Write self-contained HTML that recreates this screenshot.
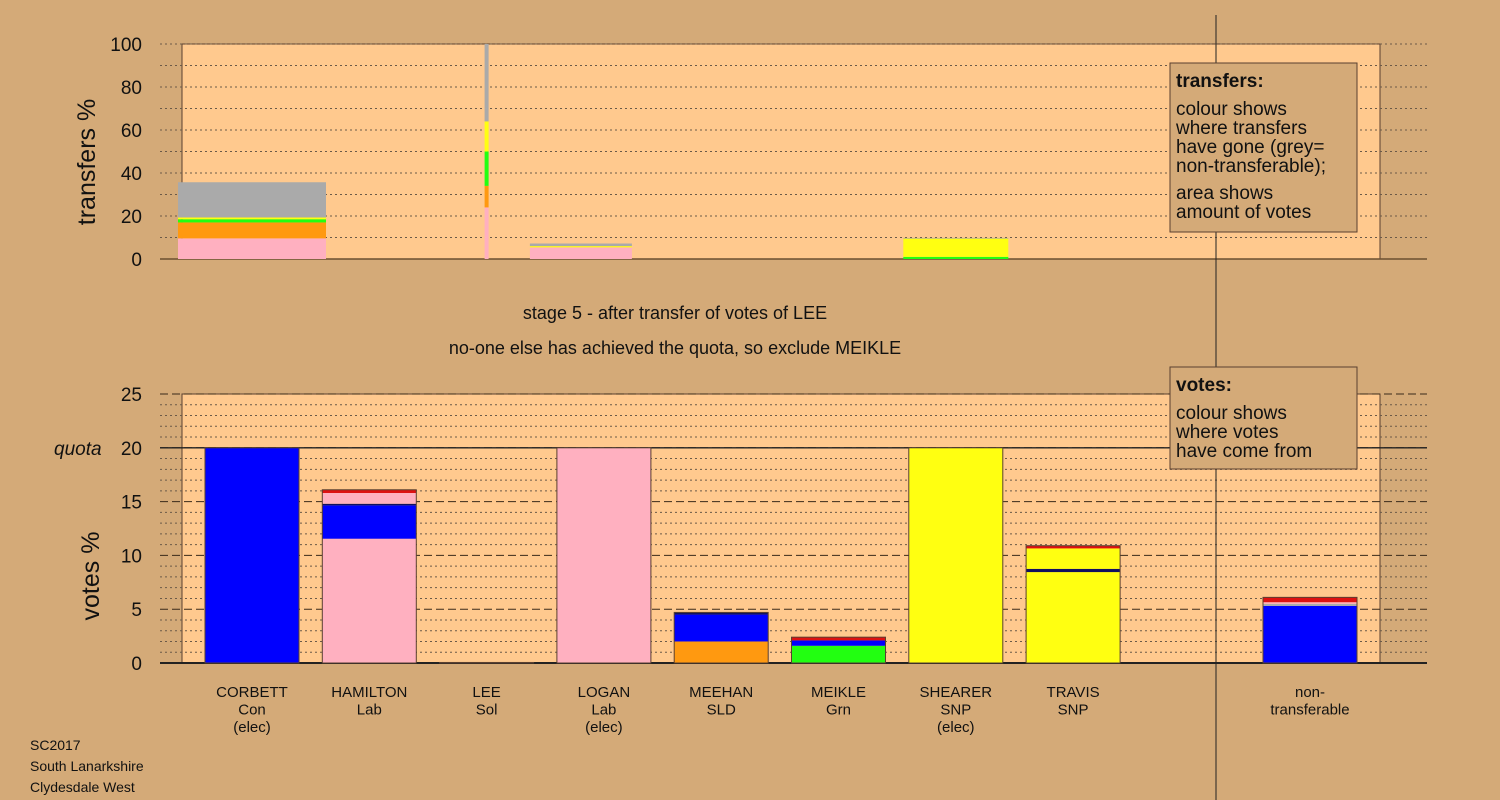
<!DOCTYPE html>
<html><head><meta charset="utf-8"><style>
body{margin:0;background:#d4aa78;}
svg{display:block;font-family:"Liberation Sans",sans-serif;}
</style></head><body>
<svg id="c" width="1500" height="800" xmlns="http://www.w3.org/2000/svg"></svg>
<script>
const candidates=["CORBETT","HAMILTON","LEE","LOGAN","MEEHAN","MEIKLE","SHEARER","TRAVIS"];
const parties=["Con","Lab","Sol","Lab","SLD","Grn","SNP","SNP"];
const elected=[true,false,false,true,false,false,true,false];
const colors={pink:"#ffb0c0",blue:"#0000ff",yellow:"#ffff11",orange:"#ff9910",green:"#22ff11",gray:"#aaaaaa",red:"#dd1111",navy:"#101060"};
// bottom: stacked votes % segments [colour, value]
const voteSegs=[
 [["blue",20]],
 [["pink",11.55],["blue",3.1],["navy",0.15],["pink",1.0],["red",0.3]],
 [["gray",0.05]],
 [["pink",20]],
 [["orange",2.0],["blue",2.5],["navy",0.2]],
 [["green",1.6],["blue",0.5],["red",0.3]],
 [["yellow",20]],
 [["yellow",8.45],["navy",0.3],["yellow",1.9],["red",0.25]],
];
const nonTransSegs=[["blue",5.3],["gray",0.2],["pink",0.15],["red",0.45]];
// top: transfers % segments and relative widths (amount of votes)
const transSegs=[
 [["pink",9.6],["orange",7.4],["green",1.5],["yellow",0.8],["gray",16.4]],
 [],
 [["pink",24],["orange",10],["green",16],["yellow",14],["gray",36]],
 [["pink",5.4],["yellow",0.6],["gray",1.2]],
 [],[],
 [["green",1],["yellow",8.5],["gray",0.3]],
 []
];
const transWidths=[148,0,4,102,0,0,105,0];
const votesTicks=[0,5,10,15,20,25];
const transTicks=[0,20,40,60,80,100];
const quota=20;

const svg=document.getElementById('c');
const NS="http://www.w3.org/2000/svg";
function el(t,a,p){const e=document.createElementNS(NS,t);for(const k in a)e.setAttribute(k,a[k]);(p||svg).appendChild(e);return e;}
function txt(s,a){const e=el('text',a);e.textContent=s;return e;}
const xC=i=>252+i*117.3;
const xNT=1310;
const yV=v=>663-v*10.76;
const yT=v=>259-v*2.15;

// panels
let p1=el('rect',{x:182,y:44,width:1198,height:215,fill:"#ffc98e",stroke:"#5a4030","stroke-width":1});


let p2=el('rect',{x:182,y:394,width:1198,height:269,fill:"#ffc98e",stroke:"#5a4030","stroke-width":1});



// top grid
for(let v=0;v<=100;v+=10){let l=el('line',{x1:160,x2:1427,y1:yT(v),y2:yT(v),stroke:"#6b5a48","stroke-width":1,"stroke-dasharray":"2,3"});

}
// bottom grid
for(let v=0;v<=25;v++){let dash=v%5==0;let l=el('line',{x1:160,x2:1427,y1:yV(v),y2:yV(v),stroke:dash?"#3a2a1a":"#6b5a48","stroke-width":1,"stroke-dasharray":dash?"8,4":"2,3"});

}
let q=el('line',{x1:160,x2:1427,y1:yV(quota),y2:yV(quota),stroke:"#222","stroke-width":1.3});


el('line',{x1:160,x2:1427,y1:663,y2:663,stroke:"#222","stroke-width":2});
el('line',{x1:160,x2:1427,y1:259,y2:259,stroke:"#6b5030","stroke-width":1.5});

// vertical separator
let vs=el('line',{x1:1216,x2:1216,y1:15,y2:800,stroke:"#222","stroke-width":1});



// ticks
transTicks.forEach(v=>{let t=txt(v,{x:142,y:yT(v)+7,"text-anchor":"end","font-size":19,fill:"#111"});

});
votesTicks.forEach(v=>{let t=txt(v,{x:142,y:yV(v)+7,"text-anchor":"end","font-size":19,fill:"#111"});

});
let ql=txt("quota",{x:54,y:yV(quota)+7,"font-size":19,"font-style":"italic",fill:"#111"});


let ty=txt("transfers %",{x:95,y:162,"font-size":25,fill:"#111","text-anchor":"middle",transform:"rotate(-90 95 162)"});


let vy=txt("votes %",{x:99,y:576,"font-size":25,fill:"#111","text-anchor":"middle",transform:"rotate(-90 99 576)"});



// stacked bar helper
function stack(cx,w,segs,yf,name){let acc=0;const g=el('g',{});


segs.forEach(([c,v])=>{el('rect',{x:cx-w/2,y:yf(acc+v),width:w,height:yf(acc)-yf(acc+v),fill:colors[c]},g);acc+=v;});
return [g,acc];}
// bottom bars
voteSegs.forEach((s,i)=>{const [g,tot]=stack(xC(i),94,s,yV,'votes-bar-'+candidates[i].toLowerCase());
el('rect',{x:xC(i)-47,y:yV(tot),width:94,height:663-yV(tot),fill:"none",stroke:"#5a4030","stroke-width":1},g);});
{const [g,tot]=stack(xNT,94,nonTransSegs,yV,'votes-bar-non-transferable');
el('rect',{x:xNT-47,y:yV(tot),width:94,height:663-yV(tot),fill:"none",stroke:"#5a4030","stroke-width":1},g);}
// top bars
transSegs.forEach((s,i)=>{if(s.length&&transWidths[i]>0)stack(xC(i)+(i==3?-23:0),transWidths[i],s,yT,'transfer-bar-'+candidates[i].toLowerCase());});

// x labels
candidates.forEach((c,i)=>{const lines=[c,parties[i]];if(elected[i])lines.push("(elec)");
lines.forEach((s,j)=>{let t=txt(s,{x:xC(i),y:697+j*17.5,"text-anchor":"middle","font-size":15,fill:"#111"});

});});
["non-","transferable"].forEach((s,j)=>{let t=txt(s,{x:xNT,y:697+j*17.5,"text-anchor":"middle","font-size":15,fill:"#111"});

});

// titles
let t1=txt("stage 5 - after transfer of votes of LEE",{x:675,y:319,"text-anchor":"middle","font-size":18,fill:"#111"});


let t2=txt("no-one else has achieved the quota, so exclude MEIKLE",{x:675,y:354,"text-anchor":"middle","font-size":18,fill:"#111"});



// legends
function legend(y,h,title,lines,name){const g=el('g',{});


el('rect',{x:1170,y:y,width:187,height:h,fill:"#d4aa78",stroke:"#5a4030","stroke-width":1},g);
const t=el('text',{x:1176,y:y+24,"font-size":19,"font-weight":"bold",fill:"#111"},g);t.textContent=title;
lines.forEach(([s,dy])=>{const e=el('text',{x:1176,y:y+dy,"font-size":19,fill:"#111"},g);e.textContent=s;});}
legend(63,169,"transfers:",[["colour shows",52],["where transfers",71],["have gone (grey=",90],["non-transferable);",109],["area shows",136],["amount of votes",155]],'transfers-legend');
legend(367,102,"votes:",[["colour shows",52],["where votes",71],["have come from",90]],'votes-legend');

// footer
["SC2017","South Lanarkshire","Clydesdale West"].forEach((s,j)=>{let t=txt(s,{x:30,y:750+j*21,"font-size":14,fill:"#111"});

});
</script>
</body></html>
